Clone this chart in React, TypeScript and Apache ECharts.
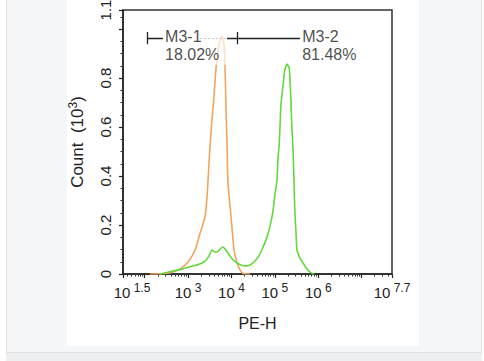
import React, { useEffect, useRef } from 'react';
import * as echarts from 'echarts';

// ---- data (x in log10 units of PE-H, y in Count x10^3) ----
const orangeX = [2.12, 2.47, 2.65, 2.81, 3.0, 3.16, 3.27, 3.39, 3.44, 3.48, 3.5, 3.55, 3.6, 3.64, 3.69, 3.74, 3.78, 3.83, 3.85, 3.87, 3.9, 3.92, 3.99, 4.06, 4.13, 4.2, 4.27, 4.43];
const orangeY = [0, 0.002, 0.008, 0.02, 0.049, 0.098, 0.163, 0.233, 0.322, 0.445, 0.506, 0.629, 0.731, 0.833, 0.914, 0.959, 0.971, 0.935, 0.853, 0.71, 0.506, 0.371, 0.233, 0.098, 0.045, 0.016, 0.002, 0];

const greenX = [2.35, 2.65, 2.86, 3.04, 3.27, 3.39, 3.48, 3.55, 3.62, 3.67, 3.74, 3.8, 3.87, 3.97, 4.04, 4.13, 4.22, 4.33, 4.43, 4.54, 4.63, 4.7, 4.77, 4.84, 4.91, 4.96, 5.0, 5.05, 5.07, 5.1, 5.12, 5.14, 5.19, 5.23, 5.28, 5.33, 5.35, 5.37, 5.39, 5.42, 5.44, 5.46, 5.49, 5.51, 5.58, 5.65, 5.74, 5.81, 5.9];
const greenY = [0, 0.012, 0.02, 0.029, 0.041, 0.053, 0.073, 0.098, 0.09, 0.09, 0.102, 0.11, 0.098, 0.073, 0.057, 0.045, 0.037, 0.033, 0.037, 0.053, 0.073, 0.098, 0.127, 0.163, 0.212, 0.261, 0.322, 0.384, 0.465, 0.527, 0.608, 0.69, 0.771, 0.833, 0.857, 0.841, 0.792, 0.71, 0.608, 0.506, 0.384, 0.261, 0.159, 0.098, 0.065, 0.045, 0.02, 0.008, 0];

// axis ticks / labels
const X_MIN = 1.5;
const X_MAX = 7.7;
const Y_MAX = 1.078;
const xLabelValues = [1.5, 3, 4, 5, 6, 7.7];
const xLabelExps = ['1.5', '3', '4', '5', '6', '7.7'];
const xMajorTicks = [1.5, 2, 3, 4, 5, 6, 7, 7.7];
const xDecades = [1, 2, 3, 4, 5, 6, 7];
const xMinorMultipliers = [2, 3, 4, 5, 6, 7, 8, 9];
const yLabelValues = [0, 0.2, 0.4, 0.6, 0.8, Y_MAX];
const yLabelTexts = ['0', '0.2', '0.4', '0.6', '0.8', '1.1'];
const yMajorTicks = [0, 0.2, 0.4, 0.6, 0.8, 1.0, Y_MAX];
const yMinorTicks = [0.05, 0.1, 0.15, 0.25, 0.3, 0.35, 0.45, 0.5, 0.55, 0.65, 0.7, 0.75, 0.85, 0.9, 0.95, 1.05];

// gates (markers)
const markerY = 0.963;
const markerTick = 0.025;
const gateM31 = [2.05, 4.13];
const gateM32 = [4.13, 5.58];
const gateNames = ['M3-1', 'M3-2'];
const gatePercents = ['18.02%', '81.48%'];
const gateTextX = [2.47, 5.63];
const nameTextY = 0.971;
const pctTextY = 0.898;
const faintAbove = 0.853;

const ORANGE = '#f4a25c';
const ORANGE_FAINT = '#fbe0c8';
const GREEN = '#62d93b';
const FONT = "'Liberation Sans', Arial, Helvetica, sans-serif";

export default function App() {
  const ref = useRef<HTMLDivElement>(null);

  useEffect(() => {
    document.body.style.margin = '0';
    if (!ref.current) return;
    const chart = echarts.init(ref.current, undefined, { renderer: 'svg' });

    const xMinorTicks: number[] = [];
    xDecades.forEach((d) =>
      xMinorMultipliers.forEach((k) => {
        const v = d + Math.log10(k);
        if (v > X_MIN && v < X_MAX) xMinorTicks.push(v);
      })
    );

    const zip = (xs: number[], ys: number[]) => xs.map((x, i) => [x, ys[i]]);

    // gradient over the orange path's bounding box: faint above `faintAbove`
    const oMax = Math.max(...orangeY);
    const oMin = Math.min(...orangeY);
    const f = Math.max(0, Math.min(1, (oMax - faintAbove) / (oMax - oMin)));
    const orangeColor = new echarts.graphic.LinearGradient(0, 0, 0, 1, [
      { offset: 0, color: ORANGE_FAINT },
      { offset: f, color: ORANGE_FAINT },
      { offset: Math.min(1, f + 0.001), color: ORANGE },
      { offset: 1, color: ORANGE },
    ]);

    const solidSegs = [
      { coords: [[gateM31[0], markerY - markerTick], [gateM31[0], markerY + markerTick]] },
      { coords: [[gateM31[0], markerY], [2.42, markerY]] },
      { coords: [[3.9, markerY], [gateM32[1], markerY]] },
      { coords: [[gateM31[1], markerY - markerTick], [gateM31[1], markerY + markerTick]] },
    ];
    const faintSegs = [{ coords: [[3.27, markerY], [3.9, markerY]] }];

    const textData = [
      { value: [gateTextX[0], nameTextY], name: gateNames[0] },
      { value: [gateTextX[0], pctTextY], name: gatePercents[0] },
      { value: [gateTextX[1], nameTextY], name: gateNames[1] },
      { value: [gateTextX[1], pctTextY], name: gatePercents[1] },
    ];

    const option: any = {
      animation: false,
      textStyle: { fontFamily: FONT },
      grid: {
        left: 123,
        right: 92,
        top: 10,
        bottom: 87,
        show: true,
        borderColor: '#333',
        borderWidth: 1.5,
        backgroundColor: 'transparent',
        containLabel: false,
        outerBoundsMode: 'none',
      },
      xAxis: [
        {
          type: 'value',
          position: 'bottom',
          min: X_MIN,
          max: X_MAX,
          name: 'PE-H',
          nameLocation: 'middle',
          nameGap: 41,
          nameTextStyle: { fontSize: 16, color: '#222', fontFamily: FONT },
          axisLine: { show: true, lineStyle: { color: '#222', width: 1.5 } },
          axisTick: { show: true, customValues: xMajorTicks, length: 4, lineStyle: { color: '#222', width: 1.2 } },
          splitLine: { show: false },
          axisLabel: {
            show: true,
            customValues: xLabelValues,
            margin: 8,
            color: '#222',
            formatter: (v: number) => {
              let idx = 0;
              let best = Infinity;
              xLabelValues.forEach((lv, i) => {
                if (Math.abs(lv - v) < best) {
                  best = Math.abs(lv - v);
                  idx = i;
                }
              });
              return idx === 0
                ? '{b0|10}{s| ' + xLabelExps[idx] + '}'
                : '{b|10}{s| ' + xLabelExps[idx] + '}';
            },
            rich: {
              b0: { fontSize: 15, color: '#222', fontFamily: FONT, padding: [0, 0, 0, 18] },
              b: { fontSize: 15, color: '#222', fontFamily: FONT },
              s: { fontSize: 12, color: '#222', fontFamily: FONT, padding: [0, 0, 8, 0] },
            },
          },
        },
        {
          type: 'value',
          position: 'bottom',
          min: X_MIN,
          max: X_MAX,
          axisLine: { show: false },
          axisTick: { show: true, customValues: xMinorTicks, length: 2.5, lineStyle: { color: '#333', width: 1 } },
          axisLabel: { show: false },
          splitLine: { show: false },
        },
      ],
      yAxis: [
        {
          type: 'value',
          position: 'left',
          min: 0,
          max: Y_MAX,
          name: 'Count  (10{s|3})',
          nameLocation: 'middle',
          nameRotate: 90,
          nameGap: 36,
          nameTextStyle: {
            fontSize: 17,
            color: '#222',
            fontFamily: FONT,
            rich: { s: { fontSize: 12, color: '#222', fontFamily: FONT, padding: [0, 0, 8, 0] } },
          },
          axisLine: { show: true, lineStyle: { color: '#222', width: 1.5 } },
          axisTick: { show: true, customValues: yMajorTicks, length: 4, lineStyle: { color: '#222', width: 1.2 } },
          splitLine: { show: false },
          axisLabel: {
            show: true,
            customValues: yLabelValues,
            rotate: 90,
            margin: 10,
            fontSize: 15,
            color: '#222',
            formatter: (v: number) => {
              let idx = 0;
              let best = Infinity;
              yLabelValues.forEach((lv, i) => {
                if (Math.abs(lv - v) < best) {
                  best = Math.abs(lv - v);
                  idx = i;
                }
              });
              return yLabelTexts[idx];
            },
          },
        },
        {
          type: 'value',
          position: 'left',
          min: 0,
          max: Y_MAX,
          axisLine: { show: false },
          axisTick: { show: true, customValues: yMinorTicks, length: 2.5, lineStyle: { color: '#333', width: 1 } },
          axisLabel: { show: false },
          splitLine: { show: false },
        },
      ],
      series: [
        {
          name: 'orange',
          type: 'line',
          xAxisIndex: 0,
          yAxisIndex: 0,
          data: zip(orangeX, orangeY),
          symbol: 'none',
          smooth: 0.2,
          z: 2,
          lineStyle: { color: orangeColor, width: 1.6 },
        },
        {
          name: 'green',
          type: 'line',
          xAxisIndex: 0,
          yAxisIndex: 0,
          data: zip(greenX, greenY),
          symbol: 'none',
          smooth: 0.2,
          z: 2,
          lineStyle: { color: GREEN, width: 1.6 },
        },
        {
          type: 'lines',
          coordinateSystem: 'cartesian2d',
          xAxisIndex: 0,
          yAxisIndex: 0,
          data: solidSegs,
          z: 5,
          silent: true,
          lineStyle: { color: '#222', width: 1.3, opacity: 1 },
        },
        {
          type: 'lines',
          coordinateSystem: 'cartesian2d',
          xAxisIndex: 0,
          yAxisIndex: 0,
          data: faintSegs,
          z: 5,
          silent: true,
          lineStyle: { color: '#c4c4c4', width: 1, type: [2, 2], opacity: 1 },
        },
        {
          type: 'scatter',
          xAxisIndex: 0,
          yAxisIndex: 0,
          data: textData,
          symbolSize: 0,
          z: 6,
          silent: true,
          label: {
            show: true,
            position: 'right',
            distance: 0,
            formatter: '{b}',
            fontSize: 16,
            color: '#1a1a1a',
            fontFamily: FONT,
          },
        },
      ],
    };

    chart.setOption(option);

    return () => chart.dispose();
  }, []);

  return (
    <div style={{ position: 'relative', width: 484, height: 361, background: '#ffffff', overflow: 'hidden' }}>
      <div
        style={{
          position: 'absolute',
          left: 6,
          top: -2,
          width: 474,
          height: 353,
          background: '#f5f6f7',
          border: '1px solid #dfe1e3',
        }}
      />
      <div style={{ position: 'absolute', left: 6, top: 353, width: 476, height: 8, background: '#eeeff1' }} />
      <div style={{ position: 'absolute', left: 67, top: 0, width: 352, height: 346, background: '#ffffff' }} />
      <div ref={ref} style={{ position: 'absolute', left: 0, top: 0, width: 484, height: 361 }} />
    </div>
  );
}
